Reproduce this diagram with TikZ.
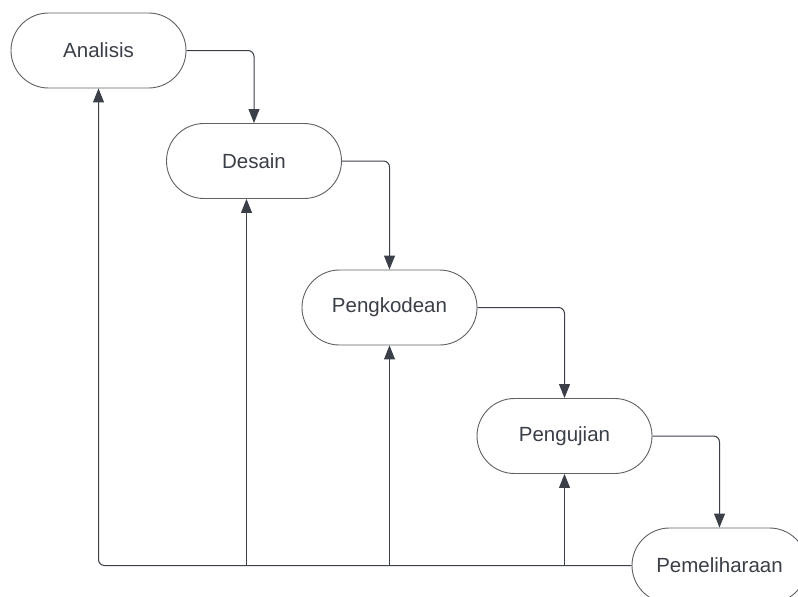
\documentclass[tikz,border=0pt]{standalone}
\usepackage{fontspec}
\setmainfont{Liberation Sans}
\usetikzlibrary{shapes}
\usetikzlibrary{arrows.meta}
\definecolor{inkgray}{RGB}{58,63,72}
\definecolor{edgegray}{RGB}{95,97,102}
\tikzset{
	stage/.style = {
		rounded rectangle,
		align=center,
		inner sep=0pt,
		draw=edgegray,
		line width=0.9pt,
		fill=white,
		text=inkgray,
		font=\fontsize{20.5}{24}\selectfont,
		minimum width=175pt,
		minimum height=75pt
	},
	flow/.style = {
		->,
		draw=inkgray,
		line width=1pt,
		rounded corners=6pt
	},
	back/.style = {
		draw=inkgray,
		line width=1pt
	},
}

\begin{document}
\begin{tikzpicture}[x=1pt,y=-1pt,>={Triangle[width=11pt,length=14pt]}]
\clip (0,0) rectangle (798,597);
\useasboundingbox (0,0) rectangle (798,597);
% stages
\node [stage] (analisis) at (98.5,50.5) {Analisis};
\node [stage] (desain) at (254,161) {Desain};
\node [stage] (pengkodean) at (389.5,307.5) {Pengkodean};
\node [stage] (pengujian) at (564.5,436) {Pengujian};
\node [stage] (pemeliharaan) at (719.5,565.5) {Pemeliharaan};
% forward steps
\draw [flow] (analisis.east) -| (desain.north);
\draw [flow] (desain.east) -| (pengkodean.north);
\draw [flow] (pengkodean.east) -| (pengujian.north);
\draw [flow] (pengujian.east) -| (pemeliharaan.north);
% feedback line
\coordinate (fb_desain) at (246.5,565.5);
\coordinate (fb_kode) at (pengkodean.south |- pemeliharaan.west);
\coordinate (fb_uji) at (pengujian.south |- pemeliharaan.west);
\draw [flow] (pemeliharaan.west) -| (analisis.south);
\draw [back,->] (fb_desain) -- (fb_desain |- desain.south);
\draw [back,->] (fb_kode) -- (pengkodean.south);
\draw [back,->] (fb_uji) -- (pengujian.south);
\end{tikzpicture}
\end{document}
